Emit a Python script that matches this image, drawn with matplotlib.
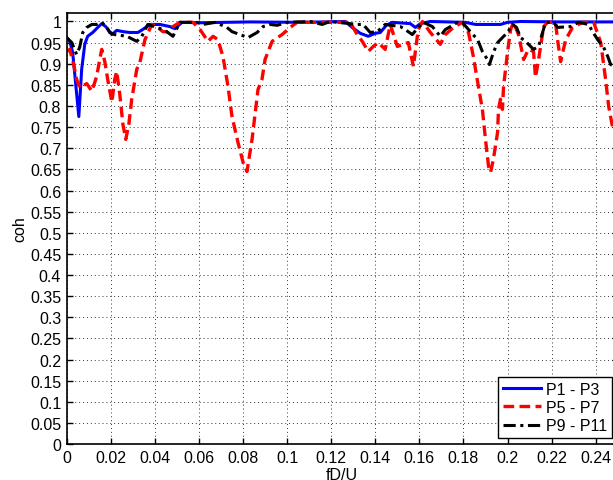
import numpy as np
from matplotlib import pyplot as plt

plt.rcParams["font.family"] = ["Liberation Sans", "DejaVu Sans"]
plt.rcParams["font.size"] = 11.5

# coherence between probe pairs vs reduced frequency
x_p1p3 = [0, .0014, .0027, .0041, .0055, .0068, .0082, .0095, .0118, .0141, .0159, .0177,
          .0205, .0227, .0255, .0286, .0323, .0345, .0377, .0423, .0468, .0491, .0523, .0605,
          .0832, .1059, .1264, .1295, .1332, .1368, .1400, .1423, .1450, .1477, .1559, .1582,
          .1605, .1650, .1809, .1855, .1968, .2000, .2059, .2241, .2514]
y_p1p3 = [.962, .953, .927, .851, .775, .887, .946, .965, .974, .986, .995, .988,
          .969, .979, .976, .974, .974, .981, .993, .993, .988, .983, .998, .997,
          .999, .998, 1.0, .986, .972, .965, .972, .974, .991, .998, .995, .986,
          .995, 1.0, .998, .993, .993, .998, 1.0, .999, .999]

x_p5p7 = [0, .0014, .0032, .0045, .0059, .0077, .0091, .0114, .0136, .0150, .0159, .0173,
          .0186, .0205, .0218, .0227, .0241, .0255, .0268, .0282, .0295, .0318, .0332, .0355,
          .0386, .0409, .0436, .0459, .0482, .0514, .0573, .0605, .0641, .0664, .0686, .0709,
          .0732, .0750, .0777, .0800, .0818, .0841, .0868, .0886, .0900, .0932, .0977, .1014,
          .1045, .1150, .1286, .1318, .1341, .1368, .1391, .1414, .1445, .1468, .1500, .1527,
          .1550, .1573, .1595, .1614, .1650, .1695, .1718, .1755, .1795, .1823, .1845, .1868,
          .1886, .1900, .1914, .1923, .1936, .1955, .1959, .1968, .1977, .1982, .2000, .2014,
          .2027, .2050, .2073, .2095, .2118, .2127, .2141, .2164, .2182, .2218, .2227, .2241,
          .2264, .2295, .2341, .2391, .2423, .2445, .2459, .2477, .2500]
y_p5p7 = [.929, .934, .898, .863, .844, .849, .853, .835, .870, .910, .934, .905,
          .863, .809, .863, .882, .827, .757, .721, .757, .816, .887, .903, .957,
          .993, .988, .976, .976, .988, .998, .998, .981, .953, .965, .957, .917,
          .846, .775, .714, .667, .645, .721, .839, .863, .910, .953, .969, .986,
          .998, .998, .998, .969, .953, .929, .941, .950, .934, .993, .941, .946,
          .950, .894, .981, 1.0, .974, .946, .969, .986, .998, .974, .917, .846,
          .792, .721, .657, .643, .674, .738, .792, .816, .792, .846, .927, .981,
          .998, .969, .910, .934, .929, .868, .910, .988, .998, .998, .957, .905,
          .957, .986, .998, .998, .950, .863, .799, .749, .745]

x_p9p11 = [0, .0023, .0045, .0059, .0073, .0091, .0114, .0136, .0159, .0182, .0195, .0218,
           .0273, .0318, .0341, .0368, .0409, .0436, .0459, .0482, .0514, .0591, .0618, .0673,
           .0727, .0750, .0786, .0823, .0864, .0891, .0923, .0955, .1000, .1105, .1159, .1195,
           .1318, .1345, .1377, .1409, .1445, .1514, .1536, .1568, .1595, .1618, .1659, .1695,
           .1718, .1741, .1773, .1795, .1823, .1864, .1886, .1909, .1918, .1936, .1955, .1977,
           .2000, .2023, .2041, .2059, .2082, .2118, .2141, .2159, .2173, .2209, .2227, .2286,
           .2323, .2368, .2386, .2409, .2436, .2455, .2468, .2500]
y_p9p11 = [.962, .950, .922, .939, .974, .986, .993, .993, .998, .986, .974, .969,
           .965, .953, .965, .993, .986, .981, .974, .965, .998, .998, .993, .998,
           .986, .976, .969, .962, .974, .988, .993, .991, .998, 1.0, .993, 1.0,
           .993, .993, .974, .976, .993, .988, .981, .969, .986, .998, .988, .965,
           .981, .988, .998, .998, .981, .957, .929, .910, .898, .927, .950, .962,
           .974, .993, .986, .962, .953, .934, .941, .974, .998, .998, .986, .988,
           .998, .993, .976, .957, .939, .917, .898, .891]

series_labels = ["P1 - P3", "P5 - P7", "P9 - P11"]
xticks = np.arange(0, 0.2401, 0.02)
yticks = np.arange(0, 1.0001, 0.05)

fig = plt.figure(figsize=(6.13, 4.81), dpi=100)
ax = fig.add_axes([0.1088, 0.0748, 0.8989, 0.8960])

ax.plot(x_p1p3, y_p1p3, color="#0000ff", lw=2.2, ls="-", label=series_labels[0])
ax.plot(x_p5p7, y_p5p7, color="#ff0000", lw=2.4, ls=(0, (3.2, 1.6)), label=series_labels[1])
ax.plot(x_p9p11, y_p9p11, color="k", lw=2.2, ls=(0, (4, 1.5, 1, 1.5)), label=series_labels[2])

ax.set_xlim(0, 0.25)
ax.set_ylim(0, 1.02)
ax.set_xticks(xticks)
ax.set_yticks(yticks)
ax.set_xticklabels(["%g" % round(v, 2) for v in xticks])
ax.set_yticklabels(["%g" % round(v, 2) for v in yticks])
ax.tick_params(direction="in", length=4, width=1, top=True, right=True, pad=4)
ax.grid(True, color="#333333", ls=(0, (1, 3)), lw=0.7)
for s in ax.spines.values():
    s.set_linewidth(1.2)

ax.set_xlabel("fD/U", labelpad=2)
ax.set_ylabel("coh", labelpad=2)

leg = ax.legend(loc="lower right", bbox_to_anchor=(612 / 613, 42 / 481),
                bbox_transform=fig.transFigure, borderaxespad=0, fancybox=False,
                framealpha=1, edgecolor="k", handlelength=2.4, handletextpad=0.3,
                labelspacing=0.2, borderpad=0.3)
leg.get_frame().set_linewidth(1.0)

fig.savefig("out.png", dpi=100)
